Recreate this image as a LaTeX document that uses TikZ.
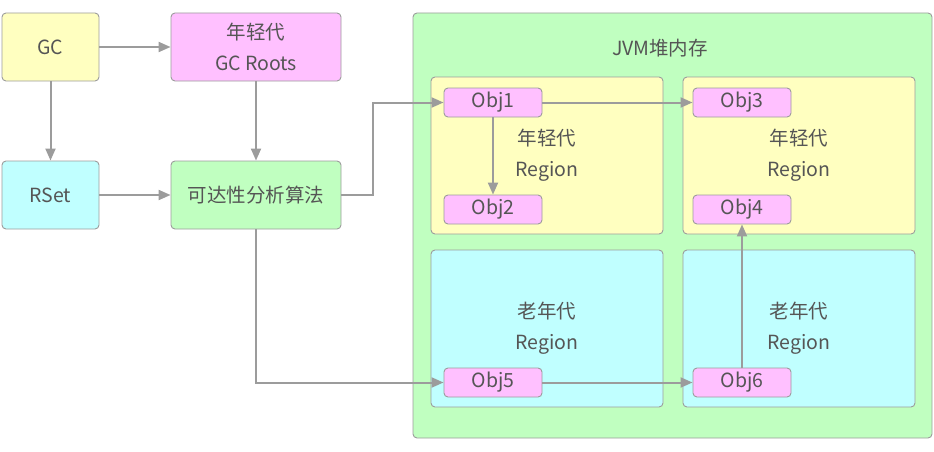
\documentclass[tikz,border=0pt]{standalone}
\usepackage{fontspec}
\setmainfont{Noto Sans CJK SC}
\usepackage{tikz}
\usetikzlibrary{positioning, arrows.meta}

\definecolor{lineg}{HTML}{9C9C9C}
\definecolor{txtg}{HTML}{555555}
\definecolor{cyel}{HTML}{FFFFC0}
\definecolor{cpink}{HTML}{FFC0FF}
\definecolor{ccyan}{HTML}{C0FFFF}
\definecolor{cgreen}{HTML}{C0FFC0}

\begin{document}
\begin{tikzpicture}[x=1pt, y=-1pt,
		every node/.style={text=txtg, font=\fontsize{19.5}{31}\selectfont, align=center, inner sep=0pt},
		box/.style={rectangle, rounded corners=4pt, draw=lineg, line width=0.9pt},
		obj/.style={box, fill=cpink, minimum width=98pt, minimum height=29pt},
		region/.style={box, minimum width=232pt, minimum height=157pt},
		arr/.style={draw=lineg, line width=2pt, -{Triangle[length=12pt, width=10pt]}}]
	\useasboundingbox (0,0) rectangle (934,452);

	% left side
	\node[box, fill=cyel, minimum width=97pt, minimum height=68pt] (gc) at (50.5,47) {GC};
	\node[box, fill=cpink, minimum width=170pt, minimum height=68pt] (roots) at (256,47) {年轻代\\GC Roots};
	\node[box, fill=ccyan, minimum width=97pt, minimum height=68pt] (rset) at (50.5,195) {RSet};
	\node[box, fill=cgreen, minimum width=170pt, minimum height=68pt] (alg) at (256,195) {可达性分析算法};

	% heap
	\node[box, fill=cgreen, minimum width=519pt, minimum height=425pt] (heap) at (672.5,225.5) {};
	\node (heapt) at (660,48) {JVM堆内存};

	\node[region, fill=cyel] (r1) at (547,155.5) {年轻代\\Region};
	\node[region, fill=cyel] (r2) at (799,155.5) {年轻代\\Region};
	\node[region, fill=ccyan] (r3) at (547,328.5) {老年代\\Region};
	\node[region, fill=ccyan] (r4) at (799,328.5) {老年代\\Region};

	\node[obj] (o1) at (493,102.5) {Obj1};
	\node[obj] (o2) at (493,209.5) {Obj2};
	\node[obj] (o3) at (742,102.5) {Obj3};
	\node[obj] (o4) at (742,209.5) {Obj4};
	\node[obj] (o5) at (493,382.5) {Obj5};
	\node[obj] (o6) at (742,382.5) {Obj6};

	\draw[arr] (gc) -- (roots);
	\draw[arr] (gc) -- (rset);
	\draw[arr] (roots) -- (alg);
	\draw[arr] (rset) -- (alg);
	\draw[arr] (alg.east) -- ++(32,0) |- (o1.west);
	\draw[arr] (alg.south) |- (o5.west);
	\draw[arr] (o1) -- (o3);
	\draw[arr] (o1) -- (o2);
	\draw[arr] (o5) -- (o6);
	\draw[arr] (o6) -- (o4);
\end{tikzpicture}
\end{document}
